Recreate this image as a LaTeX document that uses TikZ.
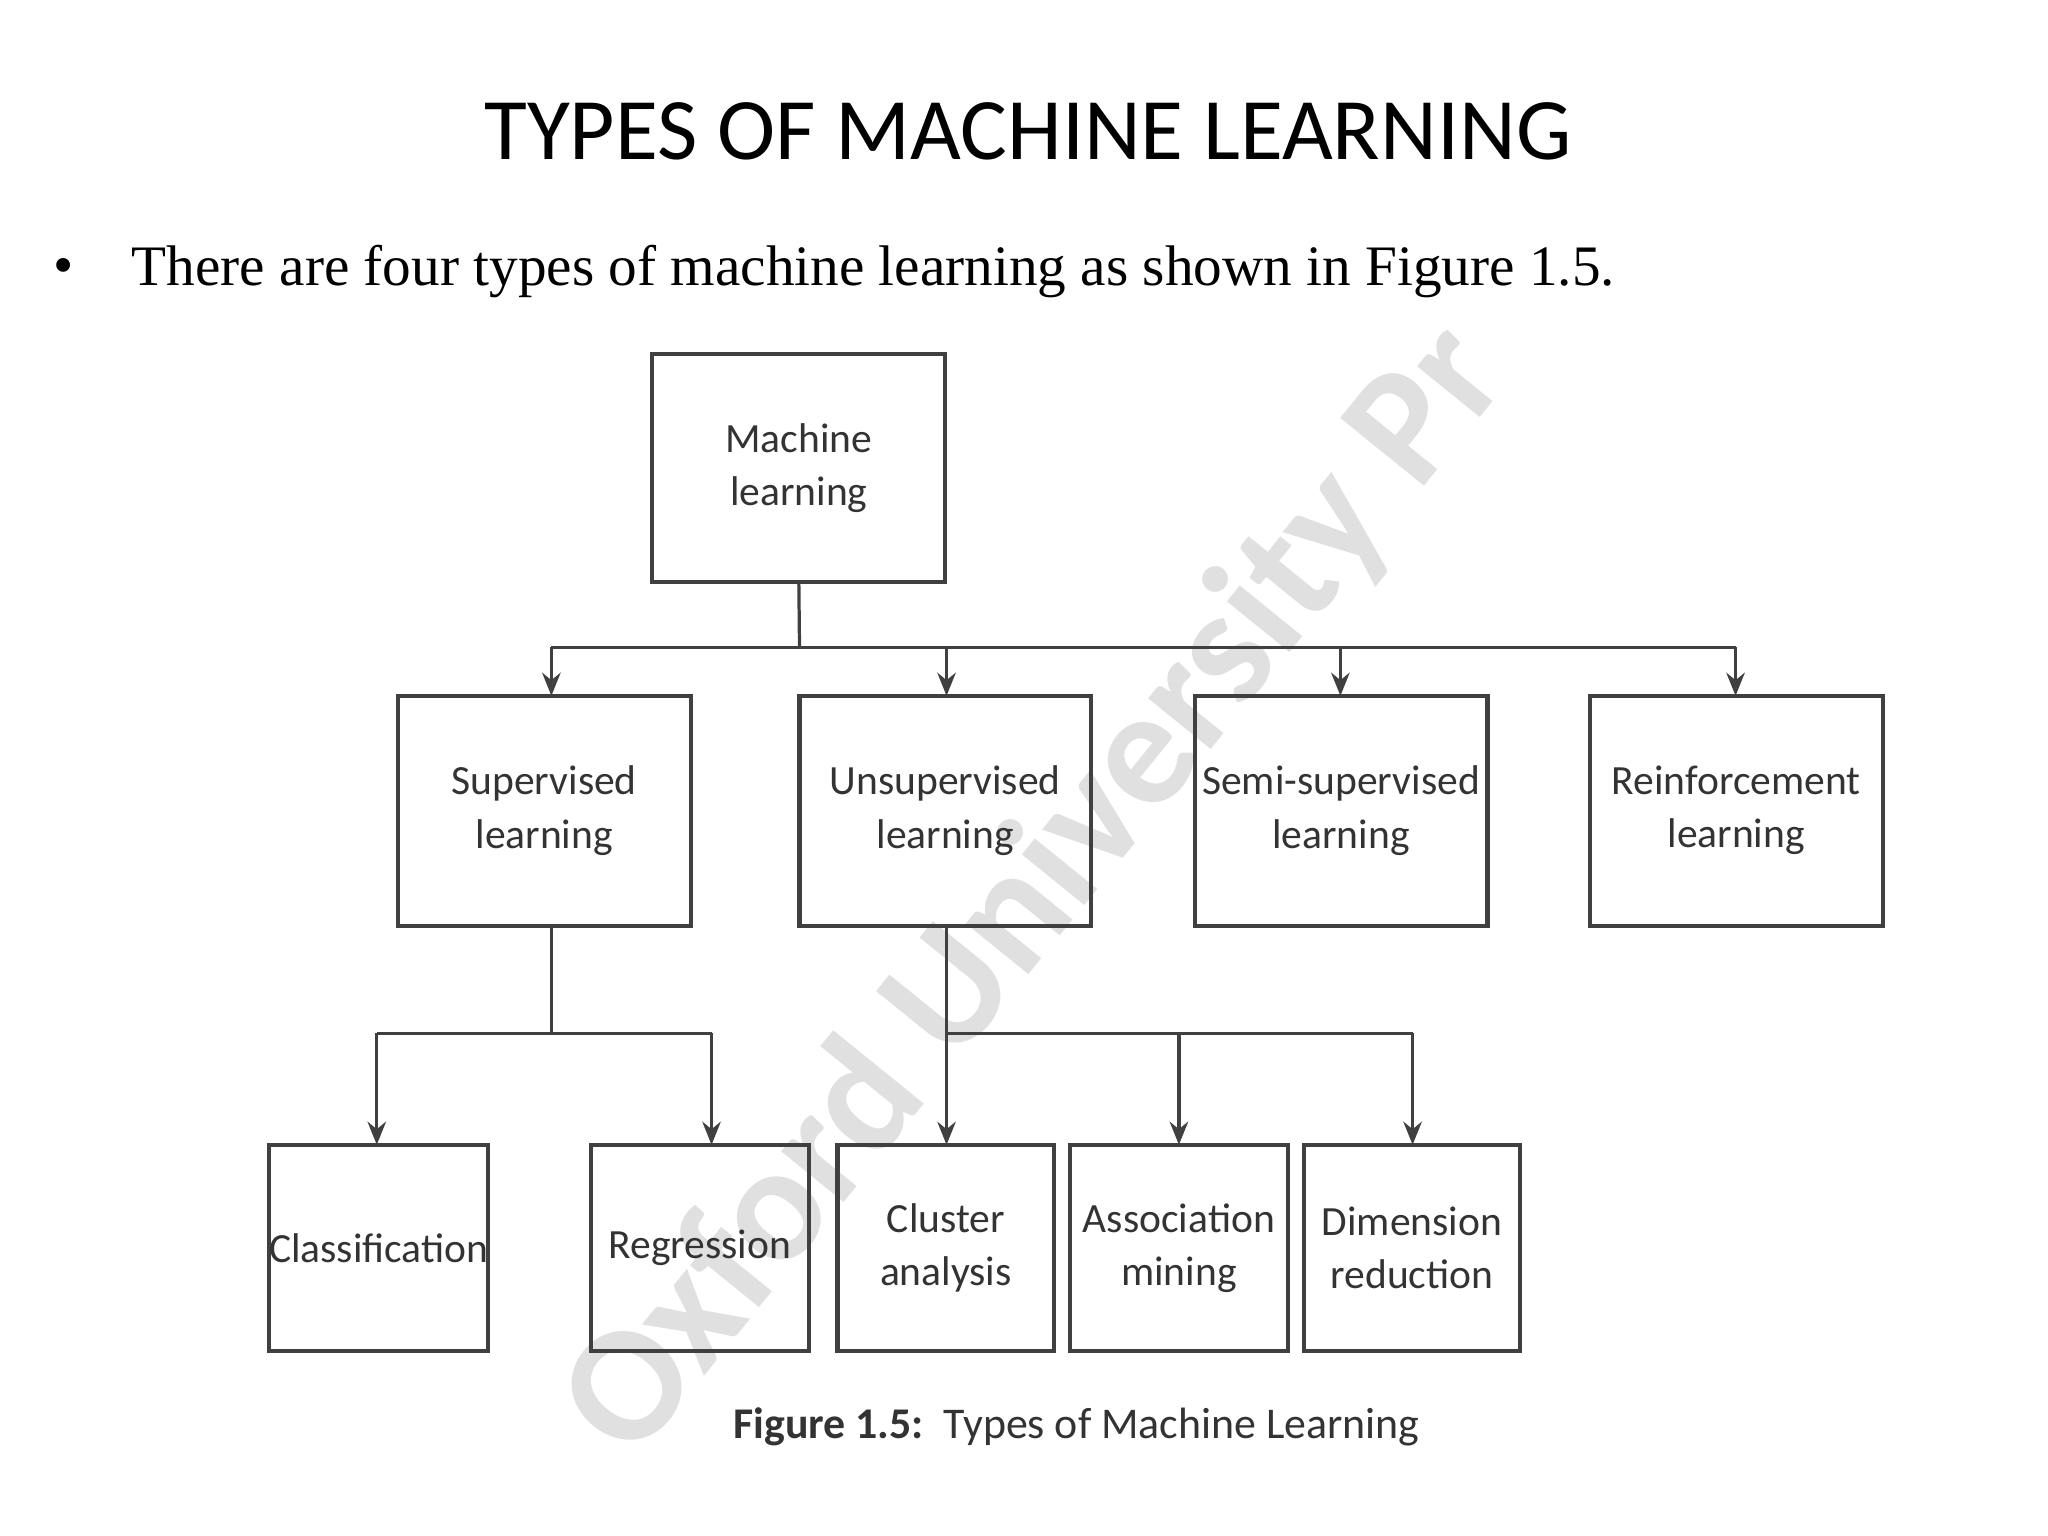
\documentclass[tikz,border=0pt]{standalone}
\usepackage{fontspec}
\setmainfont{Liberation Serif}
\newfontfamily\carl{Carlito}
\usetikzlibrary{arrows.meta}
\begin{document}
\begin{tikzpicture}[x=0.01cm,y=-0.01cm,
  box/.style={draw=black!75,line width=0.9pt,fill=none,font=\carl\fontsize{9}{11.5}\selectfont,text=black!80,align=center,inner sep=0pt},
  con/.style={draw=black!75,line width=0.7pt},
  arr/.style={con,-{Stealth[length=5pt,width=4pt]}}]
\useasboundingbox (0,0) rectangle (1560,1170);
\node[font=\carl\bfseries\fontsize{36}{40}\selectfont,text=black!12,rotate=51] (wm) at (790,680) {Oxford University Pr};
\node[font=\carl\fontsize{19}{22}\selectfont] (title) at (783,100) {TYPES OF MACHINE LEARNING};
\node[anchor=west,font=\fontsize{12.5}{15}\selectfont] (bul) at (28,207) {•};
\node[anchor=west,font=\fontsize{12.4}{15}\selectfont] (txt) at (88,207) {There are four types of machine learning as shown in Figure 1.5.};
\node[box,minimum width=2.23cm,minimum height=1.73cm] (ml) at (608.5,356.5) {Machine\\learning};
\node[box,minimum width=2.23cm,minimum height=1.75cm] (sup) at (414.5,617.5) {Supervised\\learning};
\node[box,minimum width=2.22cm,minimum height=1.75cm] (uns) at (720,617.5) {Unsupervised\\learning};
\node[box,minimum width=2.23cm,minimum height=1.75cm] (semi) at (1021.5,617.5) {Semi-supervised\\learning};
\node[box,minimum width=2.23cm,minimum height=1.75cm] (rein) at (1322.5,617.5) {Reinforcement\\learning};
\node[box,minimum width=1.65cm,minimum height=1.57cm] (cla) at (288.5,950.5) {Classification};
\node[box,minimum width=1.66cm,minimum height=1.57cm] (reg) at (533,950.5) {Regression};
\node[box,minimum width=1.65cm,minimum height=1.57cm] (clu) at (720.5,950.5) {Cluster\\analysis};
\node[box,minimum width=1.66cm,minimum height=1.57cm] (ass) at (898,950.5) {Association\\mining};
\node[box,minimum width=1.65cm,minimum height=1.57cm] (dim) at (1075.5,950.5) {Dimension\\reduction};
\node[font=\carl\fontsize{9.5}{12}\selectfont,text=black!80] (cap) at (820,1087) {\textbf{Figure 1.5:}\ \ Types of Machine Learning};
\coordinate (b) at (609,493);
\draw[con] (ml.south) -- (b);
\draw[con] (420,493) -- (1322,493);
\draw[arr] (420,493) -- (420,530);
\draw[arr] (721,493) -- (721,530);
\draw[arr] (1021,493) -- (1021,530);
\draw[arr] (1322,493) -- (1322,530);
\draw[con] (420,705) -- (420,787);
\draw[con] (287,787) -- (542,787);
\draw[arr] (287,787) -- (287,872);
\draw[arr] (542,787) -- (542,872);
\draw[arr] (721,705) -- (721,872);
\draw[con] (721,787) -- (1076,787);
\draw[arr] (898,787) -- (898,872);
\draw[arr] (1076,787) -- (1076,872);
\end{tikzpicture}
\end{document}
